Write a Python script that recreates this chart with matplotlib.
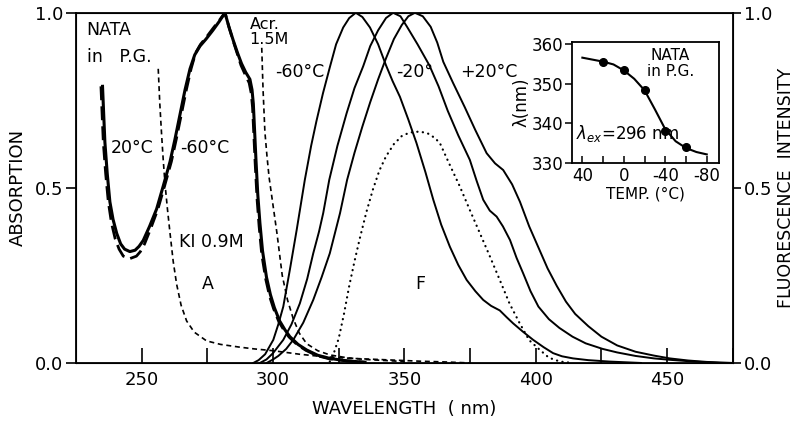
import numpy as np
import matplotlib
matplotlib.use("Agg")
import matplotlib.pyplot as plt
from matplotlib.ticker import FormatStrFormatter

plt.rcParams["font.family"] = ["DejaVu Sans"]

# absorption of NATA in P.G., 20 C (solid) and -60 C (dashed)
abs20_nm = [235.1, 235.6, 236.0, 236.9, 237.9, 239.1, 240.5, 242.0, 243.5, 245.5, 247.5, 249.0, 250.6, 253.0,
            255.7, 258.2, 260.8, 262.7, 264.6, 266.5, 268.4, 270.2, 272.2, 274.5, 277.1, 279.5, 281.7, 283.2,
            284.9, 286.5, 288.0, 289.6, 291.2, 292.0, 292.5, 293.0, 293.5, 294.2, 295.0, 296.0, 297.5, 299.0,
            300.5, 302.5, 304.5, 306.4, 309.5, 312.8, 317.0, 321.6, 328.0, 335.0]
abs20 = [0.79, 0.70, 0.63, 0.54, 0.46, 0.41, 0.37, 0.34, 0.325, 0.318, 0.322, 0.333, 0.35, 0.39,
         0.44, 0.505, 0.575, 0.64, 0.71, 0.78, 0.84, 0.88, 0.905, 0.925, 0.95, 0.975, 1.0, 0.96,
         0.92, 0.885, 0.855, 0.83, 0.81, 0.78, 0.74, 0.66, 0.58, 0.48, 0.40, 0.32, 0.245, 0.195,
         0.158, 0.12, 0.095, 0.075, 0.053, 0.037, 0.022, 0.013, 0.006, 0.002]
abs60_nm = [234.5, 235.0, 235.4, 236.3, 237.3, 238.5, 239.9, 241.4, 243.0, 245.5, 248.0, 249.5, 251.1, 253.5,
            256.2, 258.7, 261.3, 263.2, 265.1, 267.0, 268.8, 270.5, 272.4, 274.6, 277.1, 279.5, 281.7, 283.2,
            284.8, 286.3, 287.8, 289.3, 290.9, 291.7, 292.2, 292.7, 293.2, 293.9, 294.7, 295.7, 297.2, 298.7,
            300.2, 302.2, 304.2, 306.1, 309.2, 312.5, 316.7, 321.3, 328.0, 335.0]
abs60 = [0.79, 0.70, 0.63, 0.54, 0.46, 0.40, 0.355, 0.325, 0.305, 0.298, 0.305, 0.318, 0.34, 0.385,
         0.44, 0.505, 0.575, 0.64, 0.71, 0.78, 0.84, 0.885, 0.91, 0.93, 0.955, 0.978, 1.0, 0.96,
         0.92, 0.885, 0.85, 0.825, 0.80, 0.77, 0.73, 0.65, 0.57, 0.47, 0.39, 0.31, 0.24, 0.19,
         0.155, 0.118, 0.093, 0.074, 0.052, 0.036, 0.021, 0.012, 0.006, 0.002]

# quencher absorption
ki_nm = [256.3, 256.9, 257.6, 258.2, 258.9, 259.8, 260.8, 262.0, 263.3, 265.0, 267.1, 270.0, 274.7, 280.0,
         287.4, 293.0, 300.0, 310.0, 319.0, 330.0, 340.0, 356.0, 365.0, 375.0]
ki = [0.84, 0.74, 0.65, 0.58, 0.51, 0.44, 0.37, 0.29, 0.225, 0.165, 0.12, 0.088, 0.063, 0.053,
      0.045, 0.04, 0.035, 0.025, 0.018, 0.013, 0.01, 0.005, 0.003, 0.0]
acr_nm = [295.7, 296.2, 296.9, 297.7, 298.5, 300.0, 301.5, 303.5, 305.5, 307.7, 310.0, 312.8, 317.0, 321.6,
          328.0, 335.0, 350.0]
acr = [0.90, 0.78, 0.66, 0.59, 0.53, 0.45, 0.37, 0.25, 0.18, 0.126, 0.085, 0.055, 0.035, 0.023,
       0.015, 0.01, 0.004]

# fluorescence, -60, -20, +20 C and quenched (dotted)
f60_nm = [292.5, 294.5, 297.0, 300.1, 302.0, 303.9, 306.4, 309.0, 312.1, 314.5, 316.5, 319.0, 321.6, 324.0,
          326.7, 329.0, 331.5, 334.0, 336.9, 340.0, 343.0, 345.5, 348.3, 351.5, 354.6, 358.0, 361.0, 364.0,
          367.3, 370.5, 373.7, 377.0, 380.0, 383.0, 386.3, 389.0, 391.4, 395.0, 399.0, 403.0, 406.6, 410.0,
          414.2, 420.0, 428.0, 440.0]
f60 = [0.0, 0.008, 0.025, 0.066, 0.11, 0.161, 0.266, 0.38, 0.523, 0.62, 0.69, 0.77, 0.844, 0.91,
       0.958, 0.985, 1.0, 0.988, 0.958, 0.91, 0.85, 0.805, 0.76, 0.695, 0.628, 0.545, 0.466, 0.395,
       0.332, 0.28, 0.237, 0.205, 0.18, 0.163, 0.15, 0.13, 0.113, 0.09, 0.066, 0.045, 0.028, 0.019,
       0.013, 0.008, 0.004, 0.0]
f20m_nm = [295.0, 297.5, 300.0, 303.9, 307.0, 310.2, 313.0, 315.3, 317.5, 319.1, 321.4, 324.5, 328.0, 331.0,
           334.3, 337.0, 340.0, 343.0, 345.7, 348.5, 351.0, 355.0, 359.5, 363.0, 366.5, 370.5, 374.9, 377.5,
           380.0, 382.5, 385.1, 387.5, 390.2, 392.7, 395.2, 398.0, 401.0, 405.0, 409.0, 414.0, 419.0, 425.5,
           431.0, 438.0, 445.0, 451.0, 460.0, 470.0]
f20m = [0.0, 0.01, 0.028, 0.066, 0.11, 0.17, 0.24, 0.313, 0.375, 0.428, 0.523, 0.62, 0.713, 0.785,
        0.847, 0.905, 0.95, 0.985, 1.0, 0.99, 0.96, 0.91, 0.85, 0.79, 0.72, 0.65, 0.58, 0.52,
        0.466, 0.435, 0.418, 0.39, 0.351, 0.30, 0.256, 0.205, 0.161, 0.125, 0.10, 0.075, 0.056, 0.04,
        0.03, 0.02, 0.013, 0.009, 0.004, 0.0]
f20p_nm = [297.6, 300.0, 302.0, 305.0, 307.7, 311.5, 315.3, 318.5, 321.6, 325.5, 328.2, 331.0, 334.0, 337.0,
           340.0, 343.0, 346.0, 349.0, 351.5, 354.0, 357.0, 360.0, 362.5, 364.8, 368.5, 373.0, 377.0, 381.3,
           384.5, 387.6, 391.0, 394.0, 397.5, 401.0, 404.5, 408.0, 411.5, 415.0, 420.0, 425.0, 431.0, 438.0,
           445.0, 451.0, 458.0, 465.0, 475.0]
f20p = [0.0, 0.01, 0.02, 0.04, 0.066, 0.115, 0.18, 0.245, 0.313, 0.428, 0.523, 0.60, 0.675, 0.745,
        0.81, 0.87, 0.925, 0.965, 0.99, 1.0, 0.99, 0.96, 0.915, 0.86, 0.80, 0.73, 0.665, 0.599,
        0.57, 0.551, 0.51, 0.46, 0.39, 0.33, 0.27, 0.22, 0.175, 0.14, 0.105, 0.075, 0.05, 0.032,
        0.021, 0.013, 0.007, 0.003, 0.0]
fq_nm = [321.6, 323.0, 325.0, 327.0, 329.0, 331.0, 333.0, 335.5, 338.0, 340.5, 343.0, 346.0, 349.0, 352.0,
         355.9, 359.0, 361.5, 363.5, 367.0, 371.1, 375.0, 378.7, 382.5, 386.3, 390.0, 393.9, 397.5, 401.6,
         405.0, 409.2, 414.0]
fq = [0.004, 0.025, 0.07, 0.14, 0.22, 0.29, 0.355, 0.43, 0.495, 0.55, 0.59, 0.625, 0.648, 0.658,
      0.661, 0.655, 0.643, 0.628, 0.57, 0.504, 0.435, 0.371, 0.305, 0.237, 0.17, 0.113, 0.065, 0.037,
      0.015, 0.004, 0.0]

# inset: emission maximum vs temperature
temp_pts = [20, 0, -20, -40, -60]
lam_pts = [355.5, 353.5, 348.5, 338.0, 334.0]
temp_line = [40, 30, 20, 10, 0, -10, -20, -30, -40, -50, -60, -70, -80]
lam_line = [356.5, 356.0, 355.5, 354.8, 353.3, 351.2, 348.3, 343.5, 338.5, 335.5, 333.8, 332.8, 332.2]

fig = plt.figure(figsize=(8, 4.26), dpi=100)
ax = fig.add_axes([0.095, 0.148, 0.821, 0.822])

ax.plot(abs20_nm, abs20, color="black", lw=2.2)
ax.plot(abs60_nm, abs60, color="black", lw=2.0, dashes=(5, 2.2))
ax.plot(ki_nm, ki, color="black", lw=1.2, dashes=(3, 2.2))
ax.plot(acr_nm, acr, color="black", lw=1.2, dashes=(3, 2.2))
ax.plot(f60_nm, f60, color="black", lw=1.4)
ax.plot(f20m_nm, f20m, color="black", lw=1.4)
ax.plot(f20p_nm, f20p, color="black", lw=1.4)
ax.plot(fq_nm, fq, color="black", lw=1.6, linestyle=(0, (0.1, 2.4)), dash_capstyle="round")

ax.set_xlim(225, 475)
ax.set_ylim(0, 1.0)
ax.set_xticks([250, 300, 350, 400, 450])
ax.set_xticks([275, 325, 375, 425, 475], minor=True)
ax.tick_params(axis="x", which="both", direction="in", length=11, width=1.2, labelsize=13, pad=6)
ax.set_yticks([0, 0.5, 1.0])
ax.yaxis.set_major_formatter(FormatStrFormatter("%.1f"))
ax.tick_params(axis="y", direction="out", length=7, width=1.2, labelsize=13, pad=2)
for s in ax.spines.values():
    s.set_linewidth(1.3)
ax.set_xlabel("WAVELENGTH  ( nm)", fontsize=13, labelpad=8)
ax.set_ylabel("ABSORPTION", fontsize=13, labelpad=6)

ax2 = ax.twinx()
ax2.set_ylim(0, 1.0)
ax2.set_yticks([0, 0.5, 1.0])
ax2.yaxis.set_major_formatter(FormatStrFormatter("%.1f"))
ax2.tick_params(axis="y", direction="out", length=6, width=1.2, labelsize=13, pad=2)
ax2.set_ylabel("FLUORESCENCE  INTENSITY", fontsize=12.5, labelpad=3)

fs = 12.5
ax.text(229, 0.95, "NATA", fontsize=fs, va="center", ha="left")
ax.text(229, 0.875, "in   P.G.", fontsize=fs, va="center", ha="left")
ax.text(246.3, 0.614, "20°C", fontsize=fs, va="center", ha="center")
ax.text(274.1, 0.614, "-60°C", fontsize=fs, va="center", ha="center")
ax.text(291.3, 0.966, "Acr.", fontsize=fs - 1, va="center", ha="left")
ax.text(291.0, 0.923, "1.5M", fontsize=fs - 1, va="center", ha="left")
ax.text(310.2, 0.831, "-60°C", fontsize=fs, va="center", ha="center")
ax.text(354.0, 0.831, "-20°", fontsize=fs, va="center", ha="center")
ax.text(382.1, 0.831, "+20°C", fontsize=fs, va="center", ha="center")
ax.text(276.7, 0.346, "KI 0.9M", fontsize=fs, va="center", ha="center")
ax.text(275.2, 0.226, "A", fontsize=fs, va="center", ha="center")
ax.text(355.9, 0.226, "F", fontsize=fs, va="center", ha="center")

# inset
ins = fig.add_axes([0.715, 0.617, 0.184, 0.285])
ins.plot(temp_line, lam_line, color="black", lw=1.5)
ins.plot(temp_pts, lam_pts, "o", color="black", ms=5.5)
ins.set_xlim(50, -92)
ins.set_ylim(330, 360.5)
ins.set_xticks([40, 0, -40, -80])
ins.set_xticklabels(["40", "0", "-40", "-80"])
ins.set_xticks([20, -20, -60], minor=True)
ins.tick_params(axis="x", which="both", direction="in", length=5, width=1.1, labelsize=12, pad=3)
ins.set_yticks([330, 340, 350, 360])
ins.tick_params(axis="y", direction="out", length=5, width=1.1, labelsize=12, pad=1)
for s in ins.spines.values():
    s.set_linewidth(1.3)
ins.set_xlabel("TEMP. (°C)", fontsize=11, labelpad=1)
ins.set_ylabel("λ(nm)", fontsize=12, labelpad=1)
ins.text(-45, 357, "NATA", fontsize=11, va="center", ha="center")
ins.text(-45, 353, "in P.G.", fontsize=11, va="center", ha="center")
ins.text(46, 337.5, r"$\lambda_{ex}$=296 nm", fontsize=12, va="center", ha="left")

fig.savefig("out.png", dpi=100)
